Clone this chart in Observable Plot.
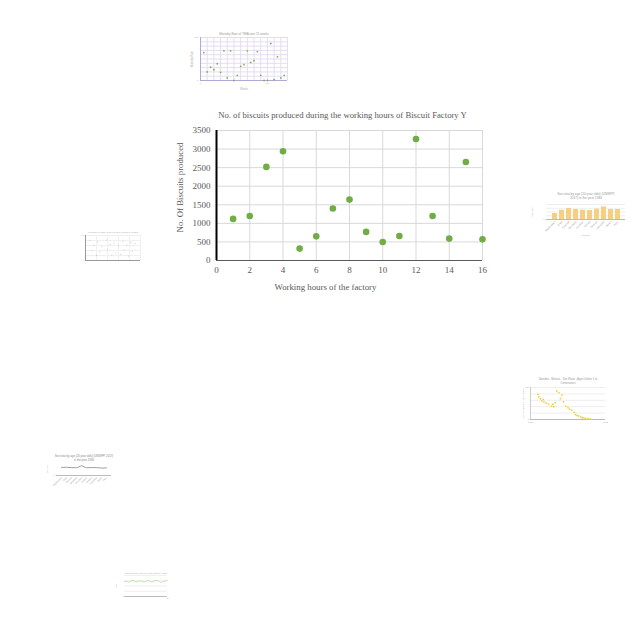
<!DOCTYPE html>
<html>
<head>
<meta charset="utf-8">
<script src="https://cdn.jsdelivr.net/npm/d3@7"></script>
<script src="https://cdn.jsdelivr.net/npm/@observablehq/plot@0.6"></script>
<style>
  body { margin: 0; background: #fff; }
  .box { position: absolute; }
</style>
</head>
<body>
<div id="chart" class="box" style="left:0;top:0"></div>
<div id="tA" class="box" style="left:188px;top:28px"></div>
<div id="tB" class="box" style="left:528px;top:188px"></div>
<div id="tC" class="box" style="left:520px;top:372px"></div>
<div id="tD" class="box" style="left:44px;top:450px"></div>
<div id="tE" class="box" style="left:112px;top:568px"></div>
<div id="tF" class="box" style="left:75px;top:225px"></div>
<script>
// ---- main chart data ----
const title = "No. of biscuits produced during the working hours of Biscuit Factory Y";
const xLabel = "Working hours of the factory";
const yLabel = "No. Of Biscuits produced";
const hours = [1, 2, 3, 4, 5, 6, 7, 8, 9, 10, 11, 12, 13, 14, 15, 16];
const biscuits = [1120, 1200, 2520, 2940, 320, 650, 1400, 1640, 770, 500, 660, 3270, 1200, 590, 2650, 570];
const xTicks = [0, 2, 4, 6, 8, 10, 12, 14, 16];
const yTicks = [0, 500, 1000, 1500, 2000, 2500, 3000, 3500];

// ---- thumbnail data (small background images) ----
const aTitle = "Mortality Rate of TRIA over 25 weeks";
const aWeeks = [1,2,3,4,5,6,7,8,9,10,11,12,13,14,15,16,17,18,19,20,21,22,23,24,25];
const aRate = [65,20,31,25,39,19,69,6,69,0,12,33,37,69,42,46,67,12,0,0,86,2,55,6,12];

const bTitle = ["Sex ratio by age (20 year olds) (UNWPP,", "2017) in the year 1980"];
const bCountries = ["Afghanistan","Chile","Czechia","Denmark","Ecuador","France","Greece","Indonesia","Japan","Peru"];
const bRatio = [0.48, 0.75, 0.88, 0.80, 0.75, 0.72, 0.83, 1.01, 0.80, 0.80];

const cTitle = ["Sweden - Mexico - Sex Ratio - Ages Under 1 to", "Centenaries"];
const cX = [10,11,13,15,17,18,21,24,28,30,31,33,35,38,40,42,44,47,50,52,55,58,60,62,64,67,69,71,73,76,78,80];
const cY = [79,71,65,58,63,55,51,48,42,48,40,53,89,84,65,76,55,42,37,32,29,23,16,13,11,8,5,6,3,2,2,1];

const dTitle = ["Sex ratio by age (20 year olds) (UNWPP, 2017)", "in the year 1980"];
const dCountries = ["Afghanistan","Chile","Czechia","Denmark","Ecuador","France","Greece","Indonesia","Japan","Peru"];
const dRatio = [0.62, 0.63, 0.61, 0.60, 0.74, 0.60, 0.61, 0.61, 0.57, 0.59];

const eTitle = "Employment rate over the last 20 years";
const eYears = [1,2,3,4,5,6,7,8,9,10,11,12,13,14,15,16,17,18,19,20];
const eRate = [70,72,68,74,76,70,72,75,71,69,76,74,70,73,77,75,66,72,74,78];

const fTitle = "Population density of the selected regions by district";
const fX = [8,15,22,30,38,45,52,60,68,75,82,90,12,26,40,55,70,85,20,48,64,78];
const fY = [80,60,75,55,82,65,70,58,77,62,72,68,40,35,45,30,42,38,20,22,25,18];

const font = "'Liberation Serif', 'DejaVu Serif', serif";
const sans = "'Liberation Sans', Arial, sans-serif";
const gray = "#595959";

// ---- main chart ----
const data = hours.map((h, i) => ({ h, b: biscuits[i] }));
const chart = Plot.plot({
  width: 640,
  height: 640,
  marginLeft: 216,
  marginRight: 158,
  marginTop: 130,
  marginBottom: 380,
  style: { fontFamily: font, fontSize: "9px", color: gray, background: "transparent" },
  x: { domain: [0, 16], ticks: xTicks, label: null },
  y: { domain: [0, 3500], ticks: yTicks, label: null },
  marks: [
    Plot.gridX(xTicks, { stroke: "#d9d9d9", strokeOpacity: 1 }),
    Plot.gridY(yTicks, { stroke: "#d9d9d9", strokeOpacity: 1 }),
    Plot.ruleY([0], { stroke: "#595959", strokeWidth: 1 }),
    Plot.ruleX([0], { stroke: "#000", strokeWidth: 2 }),
    Plot.axisX(xTicks, { tickSize: 0, tickPadding: 6, fill: gray, fontSize: 9, tickFormat: d => String(d) }),
    Plot.axisY(yTicks, { tickSize: 0, tickPadding: 6, fill: gray, fontSize: 9, tickFormat: d => String(d) }),
    Plot.dot(data, { x: "h", y: "b", r: 3.3, fill: "#70AD47", stroke: "none" }),
    Plot.text([title], { frameAnchor: "top", dy: -19, dx: -7, fill: gray, fontSize: 8.7 }),
    Plot.text([xLabel], { frameAnchor: "bottom", dy: 29, dx: -24, fill: gray, fontSize: 8.8 }),
    Plot.text([yLabel], { frameAnchor: "left", textAnchor: "middle", dx: -36, dy: -8, rotate: -90, fill: gray, fontSize: 8.8 })
  ]
});
document.getElementById("chart").append(chart);

// ---- thumbnails ----
const tiny = { fontFamily: sans, fontSize: "3px", color: "#999", background: "transparent", overflow: "visible" };

// A: purple-axis scatter
document.getElementById("tA").append(Plot.plot({
  width: 110, height: 66, marginLeft: 12, marginRight: 11, marginTop: 9, marginBottom: 14,
  style: tiny,
  x: { domain: [0, 26], label: null, ticks: aWeeks.filter(d => d % 2 === 1) },
  y: { domain: [0, 100], label: null, ticks: [0,10,20,30,40,50,60,70,80,90,100] },
  marks: [
    Plot.gridX(d3.range(0, 27, 2), { stroke: "#e4def0", strokeOpacity: 1 }),
    Plot.gridY([0,10,20,30,40,50,60,70,80,90,100], { stroke: "#e4def0", strokeOpacity: 1 }),
    Plot.ruleY([0], { stroke: "#b4a7d6" }),
    Plot.ruleX([0], { stroke: "#b4a7d6" }),
    Plot.axisX({ tickSize: 0, tickPadding: 2, fill: "#aaa", fontSize: 2.5 }),
    Plot.axisY({ tickSize: 0, tickPadding: 2, fill: "#aaa", fontSize: 2.5 }),
    Plot.dot(aWeeks.map((w, i) => ({ w, r: aRate[i] })), { x: "w", y: "r", r: 0.9, fill: "#7fae5a" }),
    Plot.text([aTitle], { frameAnchor: "top", dy: -5, fill: "#999", fontSize: 3 }),
    Plot.text(["Weeks"], { frameAnchor: "bottom", dy: 9, fill: "#aaa", fontSize: 2.6 }),
    Plot.text(["Mortality Rate"], { frameAnchor: "left", textAnchor: "middle", dx: -8, rotate: -90, fill: "#aaa", fontSize: 2.6 })
  ]
}));

// B: yellow bar chart
document.getElementById("tB").append(Plot.plot({
  width: 105, height: 50, marginLeft: 18, marginRight: 8, marginTop: 16, marginBottom: 19,
  style: tiny,
  x: { domain: bCountries, label: null, padding: 0.3 },
  y: { domain: [0, 1.2], label: null, ticks: [0, 0.3, 0.6, 0.9, 1.2] },
  marks: [
    Plot.gridY([0.3, 0.6, 0.9, 1.2], { stroke: "#eee", strokeOpacity: 1 }),
    Plot.barY(bCountries.map((c, i) => ({ c, v: bRatio[i] })), { x: "c", y: "v", fill: "#f7cf82" }),
    Plot.ruleY([0], { stroke: "#bbb" }),
    Plot.axisX({ tickSize: 0, tickPadding: 2, tickRotate: -45, fill: "#999", fontSize: 2.6 }),
    Plot.axisY({ tickSize: 0, tickPadding: 2, fill: "#999", fontSize: 2.4 }),
    Plot.text([bTitle[0]], { frameAnchor: "top", dy: -12, fill: "#999", fontSize: 3.2 }),
    Plot.text([bTitle[1]], { frameAnchor: "top", dy: -7.5, fill: "#999", fontSize: 3.2 }),
    Plot.text(["Country"], { frameAnchor: "bottom", dy: 16, fill: "#aaa", fontSize: 2.4 }),
    Plot.text(["Sex ratio"], { frameAnchor: "left", textAnchor: "middle", dx: -14, rotate: -90, fill: "#aaa", fontSize: 2.4 })
  ]
}));

// C: yellow scatter declining
document.getElementById("tC").append(Plot.plot({
  width: 90, height: 55, marginLeft: 10, marginRight: 5, marginTop: 15, marginBottom: 8,
  style: tiny,
  x: { domain: [0, 100], label: null, ticks: [0, 12.5, 25, 37.5, 50, 62.5, 75, 87.5, 100] },
  y: { domain: [0, 100], label: null, ticks: [0, 20, 40, 60, 80, 100] },
  marks: [
    Plot.gridY([20, 40, 60, 80, 100], { stroke: "#eee", strokeOpacity: 1 }),
    Plot.ruleY([0], { stroke: "#bbb" }),
    Plot.ruleX([0], { stroke: "#ccc" }),
    Plot.axisX({ tickSize: 0, tickPadding: 2, fill: "#999", fontSize: 2.2, tickFormat: (d, i) => String(1900 + i * 15) }),
    Plot.axisY({ tickSize: 0, tickPadding: 1.5, fill: "#999", fontSize: 2.2 }),
    Plot.dot(cX.map((x, i) => ({ x, y: cY[i] })), { x: "x", y: "y", r: 0.9, fill: "#f2cf4a" }),
    Plot.text([cTitle[0]], { frameAnchor: "top", dy: -10, fill: "#999", fontSize: 2.8 }),
    Plot.text([cTitle[1]], { frameAnchor: "top", dy: -6, fill: "#999", fontSize: 2.8 }),
    Plot.text(["Sex ratio (males per 100 females)"], { frameAnchor: "left", textAnchor: "middle", dx: -7, rotate: -90, fill: "#aaa", fontSize: 2 })
  ]
}));

// D: gray line chart
document.getElementById("tD").append(Plot.plot({
  width: 72, height: 42, marginLeft: 12, marginRight: 5, marginTop: 12, marginBottom: 17,
  style: tiny,
  x: { domain: dCountries, label: null, padding: 0.5 },
  y: { domain: [0, 1], label: null, ticks: [0, 0.5, 1] },
  marks: [
    Plot.ruleY([0], { stroke: "#bbb" }),
    Plot.line(dCountries.map((c, i) => ({ c, v: dRatio[i] })), { x: "c", y: "v", stroke: "#888", strokeWidth: 0.8, curve: "monotone-x" }),
    Plot.axisX({ tickSize: 0, tickPadding: 2, tickRotate: -45, fill: "#999", fontSize: 2.2 }),
    Plot.axisY({ tickSize: 0, tickPadding: 1.5, fill: "#999", fontSize: 2.2 }),
    Plot.text([dTitle[0]], { frameAnchor: "top", dy: -8, fill: "#888", fontSize: 2.8 }),
    Plot.text([dTitle[1]], { frameAnchor: "top", dy: -4, fill: "#888", fontSize: 2.8 }),
    Plot.text(["Sex ratio"], { frameAnchor: "left", textAnchor: "middle", dx: -9, rotate: -90, fill: "#aaa", fontSize: 2 })
  ]
}));

// E: green line chart
document.getElementById("tE").append(Plot.plot({
  width: 62, height: 38, marginLeft: 12, marginRight: 7, marginTop: 7, marginBottom: 10,
  style: tiny,
  x: { domain: [1, 20], label: null, ticks: eYears },
  y: { domain: [0, 100], label: null, ticks: [0, 25, 50, 75, 100] },
  marks: [
    Plot.gridY([25, 50, 75, 100], { stroke: "#f0f0f0", strokeOpacity: 1 }),
    Plot.ruleY([0], { stroke: "#bbb" }),
    Plot.line(eYears.map((y, i) => ({ y, r: eRate[i] })), { x: "y", y: "r", stroke: "#9fd08a", strokeWidth: 0.6, curve: "monotone-x" }),
    Plot.axisX({ tickSize: 0, tickPadding: 1.5, fill: "#aaa", fontSize: 1.8 }),
    Plot.axisY({ tickSize: 0, tickPadding: 1.5, fill: "#aaa", fontSize: 1.8 }),
    Plot.text([eTitle], { frameAnchor: "top", dy: -3, fill: "#aaa", fontSize: 2.4 }),
    Plot.text(["Rate"], { frameAnchor: "left", textAnchor: "middle", dx: -8, rotate: -90, fill: "#aaa", fontSize: 2 })
  ]
}));

// F: faint gray scatter
document.getElementById("tF").append(Plot.plot({
  width: 70, height: 45, marginLeft: 10, marginRight: 5, marginTop: 10, marginBottom: 10,
  style: tiny,
  x: { domain: [0, 100], label: null, ticks: [0, 20, 40, 60, 80, 100] },
  y: { domain: [0, 100], label: null, ticks: [0, 20, 40, 60, 80, 100] },
  marks: [
    Plot.gridX([20, 40, 60, 80, 100], { stroke: "#f0f0f0", strokeOpacity: 1 }),
    Plot.gridY([20, 40, 60, 80, 100], { stroke: "#f0f0f0", strokeOpacity: 1 }),
    Plot.ruleY([0], { stroke: "#999" }),
    Plot.ruleX([0], { stroke: "#999" }),
    Plot.dot(fX.map((x, i) => ({ x, y: fY[i] })), { x: "x", y: "y", r: 0.5, fill: "#bbb" }),
    Plot.axisX({ tickSize: 0, tickPadding: 1.5, fill: "#bbb", fontSize: 1.8 }),
    Plot.axisY({ tickSize: 0, tickPadding: 1.5, fill: "#bbb", fontSize: 1.8 }),
    Plot.text([fTitle], { frameAnchor: "top", dy: -4, fill: "#aaa", fontSize: 2.2 })
  ]
}));
</script>
</body>
</html>
